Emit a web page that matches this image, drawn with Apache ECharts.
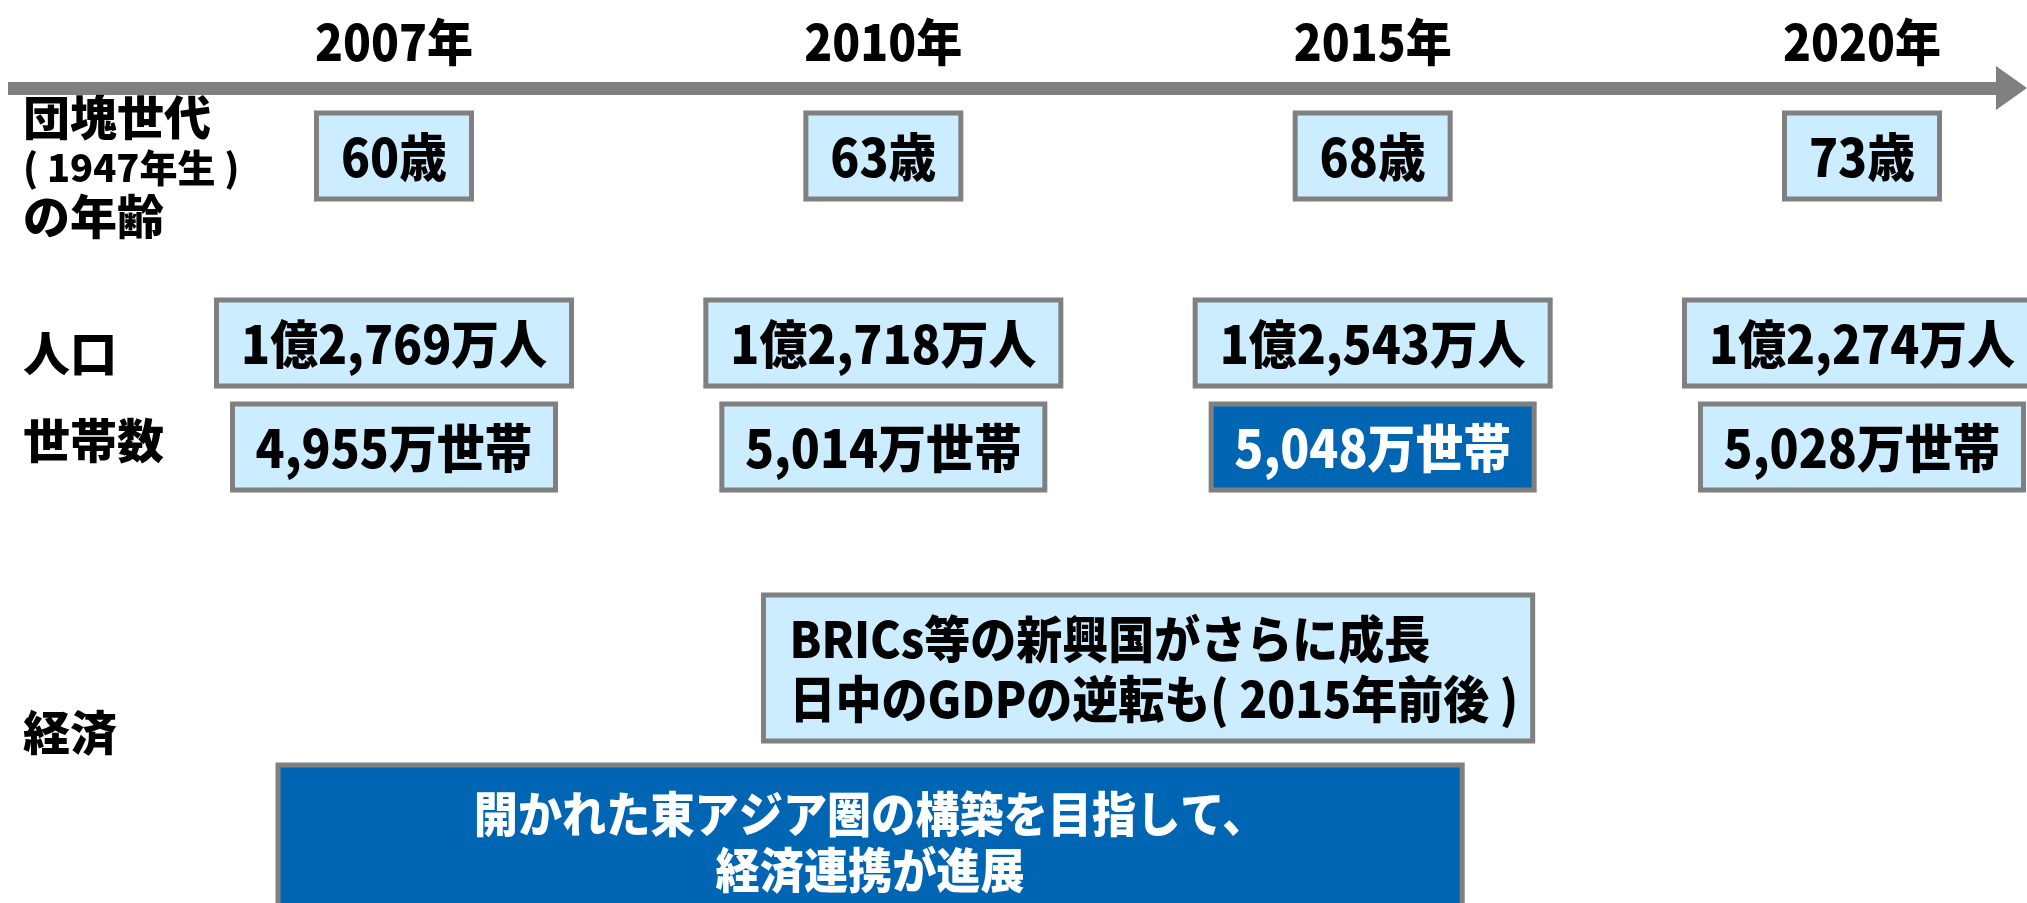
<!DOCTYPE html>
<html lang="ja">
<head>
    <meta charset="UTF-8">
    <title>団塊世代と人口・世帯数の推移</title>
    <script src="https://cdn.jsdelivr.net/npm/echarts@6/dist/echarts.min.js"></script>
    <style>
        html, body { margin: 0; padding: 0; background: #fff; }
        #main { width: 2027px; height: 903px; }
    </style>
</head>
<body>
<div id="main"></div>
<script type="text/javascript">
    // 年次（列）
    var years = ['2007年', '2010年', '2015年', '2020年'];
    // 団塊世代（1947年生）の年齢
    var ages = ['60歳', '63歳', '68歳', '73歳'];
    // 人口
    var population = ['1億2,769万人', '1億2,718万人', '1億2,543万人', '1億2,274万人'];
    // 世帯数（2015年がピーク）
    var households = ['4,955万世帯', '5,014万世帯', '5,048万世帯', '5,028万世帯'];
    var householdPeak = 2;
    // 経済：期間は列番号で（0 = 2007年 … 3 = 2020年）
    var economyText = [
        'BRICs等の新興国がさらに成長\n日中のGDPの逆転も( 2015年前後 )',
        '開かれた東アジア圏の構築を目指して、\n経済連携が進展'
    ];
    var economyFrom = [0.755, -0.237];
    var economyTo = [2.327, 2.183];
    var economyDark = [false, true];

    var LIGHT = '#CCECFF', DARK = '#0066B3', BORDER = '#808080';
    var FONT = '"Noto Sans CJK JP", sans-serif';
    var NARROW = 0.92; // 元の図は少し縦長の書体

    var chart = echarts.init(document.getElementById('main'));

    // 列ごとの箱（行の中心 y、箱の幅・高さ）
    function boxRow(texts, rowY, w, h, darkIndex) {
        return {
            type: 'custom',
            silent: true,
            data: texts.map(function (t, i) { return [i, rowY]; }),
            renderItem: function (params, api) {
                var p = api.coord([api.value(0), api.value(1)]);
                var dark = params.dataIndex === darkIndex;
                return {
                    type: 'group',
                    children: [{
                        type: 'rect',
                        shape: { x: p[0] - w / 2, y: p[1] - h / 2, width: w, height: h },
                        style: { fill: dark ? DARK : LIGHT, stroke: BORDER, lineWidth: 5 }
                    }, {
                        type: 'text',
                        x: p[0], y: p[1] + 1, scaleX: NARROW,
                        style: {
                            text: texts[params.dataIndex],
                            fill: dark ? '#fff' : '#000',
                            fontSize: 52, fontWeight: 900, fontFamily: FONT,
                            align: 'center', verticalAlign: 'middle'
                        }
                    }]
                };
            }
        };
    }

    var yearSeries = {
        type: 'custom',
        silent: true,
        data: years.map(function (t, i) { return [i, 42]; }),
        renderItem: function (params, api) {
            var p = api.coord([api.value(0), api.value(1)]);
            return {
                type: 'text',
                x: p[0], y: p[1], scaleX: NARROW,
                style: {
                    text: years[params.dataIndex], fill: '#000',
                    fontSize: 50, fontWeight: 900, fontFamily: FONT,
                    align: 'center', verticalAlign: 'middle'
                }
            };
        }
    };

    var economySeries = {
        type: 'custom',
        silent: true,
        data: economyText.map(function (t, i) { return [economyFrom[i], economyTo[i]]; }),
        renderItem: function (params, api) {
            var i = params.dataIndex;
            var dark = economyDark[i];
            var top = dark ? 765 : 595;
            var h = dark ? 160 : 146;
            var x0 = api.coord([api.value(0), top])[0];
            var x1 = api.coord([api.value(1), top])[0];
            var y0 = api.coord([0, top])[1];
            return {
                type: 'group',
                children: [{
                    type: 'rect',
                    shape: { x: x0, y: y0, width: x1 - x0, height: h },
                    style: { fill: dark ? DARK : LIGHT, stroke: BORDER, lineWidth: 5 }
                }, {
                    type: 'text',
                    x: dark ? (x0 + x1) / 2 : x0 + 26,
                    y: dark ? y0 + 77 : y0 + 74,
                    scaleX: NARROW,
                    style: {
                        text: economyText[i],
                        fill: dark ? '#fff' : '#000',
                        fontSize: dark ? 48 : 50, fontWeight: 900, fontFamily: FONT,
                        lineHeight: dark ? 56 : 60,
                        align: dark ? 'center' : 'left', verticalAlign: 'middle'
                    }
                }]
            };
        }
    };

    function label(text, y, size) {
        size = size || 46;
        return {
            type: 'text', left: 23, top: y - size * 0.62,
            style: { text: text, fill: '#000', fontSize: size, fontWeight: 900, fontFamily: FONT }
        };
    }

    chart.setOption({
        animation: false,
        grid: { left: 394, right: 165, top: 0, bottom: 0 },
        xAxis: { type: 'value', min: 0, max: 3, show: false },
        yAxis: { type: 'value', min: 0, max: 903, inverse: true, show: false },
        graphic: [
            // 時間軸の矢印
            { type: 'rect', shape: { x: 8, y: 82, width: 1992, height: 13 }, style: { fill: BORDER } },
            { type: 'polygon', shape: { points: [[1996, 66], [2027, 88], [1996, 110]] }, style: { fill: BORDER } },
            label('団塊世代', 123, 47),
            label('( 1947年生 )', 172, 38),
            label('の年齢', 222, 47),
            label('人口', 359, 47),
            label('世帯数', 446, 47),
            label('経済', 738, 47)
        ],
        series: [
            yearSeries,
            boxRow(ages, 156, 155, 86, -1),
            boxRow(population, 343, 355, 86, -1),
            boxRow(households, 447, 323, 86, householdPeak),
            economySeries
        ]
    });
</script>
</body>
</html>
